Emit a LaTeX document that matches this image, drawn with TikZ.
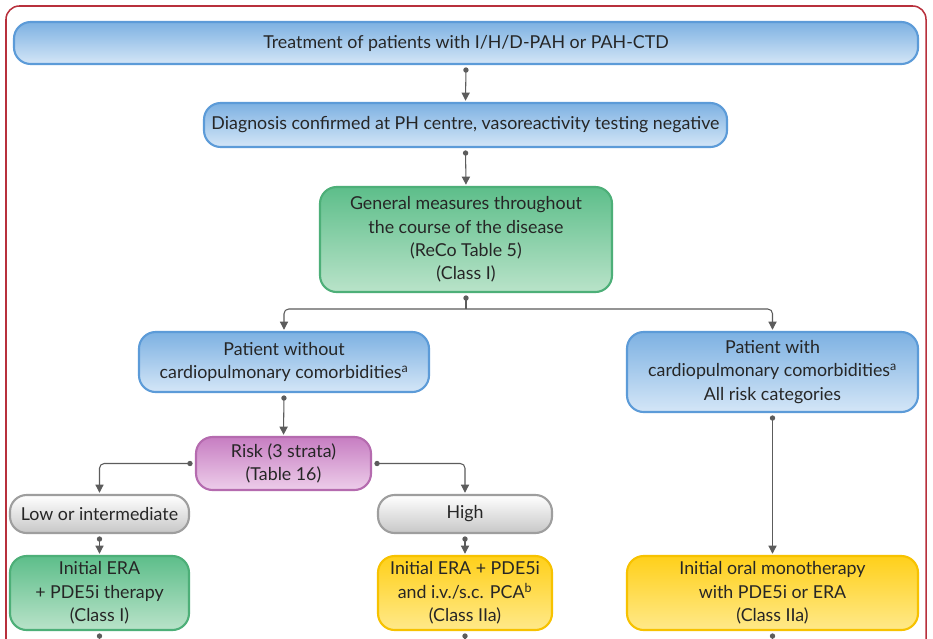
\documentclass[tikz,border=0pt]{standalone}
\usepackage{fontspec}
\setmainfont{Lato}
\usetikzlibrary{arrows.meta}

\definecolor{frameRed}{HTML}{B8303C}
\definecolor{lineGrey}{HTML}{5C5C5C}
\definecolor{blueTop}{HTML}{7DB1E2}
\definecolor{blueBot}{HTML}{D4E6F7}
\definecolor{blueEdge}{HTML}{5C9BD8}
\definecolor{greenTop}{HTML}{5DBE8A}
\definecolor{greenBot}{HTML}{B9E3C9}
\definecolor{greenEdge}{HTML}{4DAF78}
\definecolor{pinkTop}{HTML}{C77EC2}
\definecolor{pinkBot}{HTML}{EDCDEA}
\definecolor{pinkEdge}{HTML}{B56BAF}
\definecolor{yellowTop}{HTML}{FFD01A}
\definecolor{yellowBot}{HTML}{FFE98A}
\definecolor{yellowEdge}{HTML}{F7C200}

\begin{document}
\begin{tikzpicture}[x=0.03cm, y=-0.03cm,
    box/.style={rounded corners=0.5cm, line width=1.8pt, align=center,
      inner sep=2pt, text=black!85, font=\fontsize{15.2}{20}\selectfont},
    bluebox/.style={box, draw=blueEdge, top color=blueTop, bottom color=blueBot},
    greenbox/.style={box, draw=greenEdge, top color=greenTop, bottom color=greenBot},
    pinkbox/.style={box, draw=pinkEdge, top color=pinkTop, bottom color=pinkBot},
    greybox/.style={box, draw=black!38, top color=white, bottom color=black!22},
    yellowbox/.style={box, draw=yellowEdge, top color=yellowTop, bottom color=yellowBot},
    conn/.style={draw=lineGrey, line width=0.9pt, rounded corners=4pt,
      {Circle[length=4.5pt]}-{Triangle[length=7pt,width=7pt]},
      shorten <=2pt, shorten >=1pt},
    branch/.style={draw=lineGrey, line width=0.9pt, rounded corners=4pt,
      -{Triangle[length=7pt,width=7pt]}, shorten >=1pt},
    stub/.style={draw=lineGrey, line width=0.9pt, {Circle[length=4.5pt]}-, shorten <=2pt}]

    % Page size and outer frame
    \useasboundingbox (0,0) rectangle (933,638);
    \fill[white] (0,0) rectangle (933,638);
    \clip (0,0) rectangle (933,638);
    \draw[frameRed, line width=1.3pt, rounded corners=0.4cm] (6,6) rectangle (926,700);

    % Top of the algorithm
    \node[bluebox, minimum width=27.12cm, minimum height=1.26cm] (treat) at (466,43)
      {Treatment of patients with I/H/D-PAH or PAH-CTD};
    \node[bluebox, minimum width=15.69cm, minimum height=1.32cm] (diag) at (465.5,125)
      {Diagnosis confirmed at PH centre, vasoreactivity testing negative};
    \node[greenbox, minimum width=8.76cm, minimum height=3.15cm] (gen) at (466,239.5)
      {General measures throughout\\the course of the disease\\(ReCo Table 5)\\(Class I)};

    % Comorbidity branches
    \node[bluebox, minimum width=8.7cm, minimum height=1.8cm] (without) at (284,362)
      {Patient without\\cardiopulmonary comorbidities\textsuperscript{a}};
    \node[bluebox, minimum width=8.73cm, minimum height=2.4cm] (with) at (772.5,372)
      {Patient with\\cardiopulmonary comorbidities\textsuperscript{a}\\All risk categories};

    % Risk strata
    \node[pinkbox, minimum width=5.25cm, minimum height=1.59cm] (risk) at (283.5,463.5)
      {Risk (3 strata)\\(Table 16)};
    \node[greybox, minimum width=5.37cm, minimum height=1.14cm] (low) at (99.5,514)
      {Low or intermediate};
    \node[greybox, minimum width=5.22cm, minimum height=1.14cm] (high) at (465,514)
      {High};

    % Initial therapy
    \node[greenbox, minimum width=5.37cm, minimum height=2.22cm] (era) at (99.5,593)
      {Initial ERA\\+ PDE5i therapy\\(Class I)};
    \node[yellowbox, minimum width=5.22cm, minimum height=2.22cm] (combo) at (465,593)
      {Initial ERA + PDE5i\\and i.v./s.c. PCA\textsuperscript{b}\\(Class IIa)};
    \node[yellowbox, minimum width=8.73cm, minimum height=2.22cm] (mono) at (772.5,593)
      {Initial oral monotherapy\\with PDE5i or ERA\\(Class IIa)};

    % Connectors
    \draw[conn] (treat.south) -- (diag.north);
    \draw[conn] (diag.south) -- (gen.north);
    \coordinate (split) at (466,309);
    \draw[stub] (gen.south) -- (split);
    \draw[branch] (split) -| (without.north);
    \draw[branch] (split) -| (with.north);
    \draw[conn] (without.south) -- (risk.north);
    \draw[conn] (risk.west) -| (low.north);
    \draw[conn] (risk.east) -| (high.north);
    \draw[conn] (low.south) -- (era.north);
    \draw[conn] (high.south) -- (combo.north);
    \draw[conn] (with.south) -- (mono.north);

    % Outgoing lines cut off at the bottom
    \coordinate (eraOut) at (99.5,660);
    \coordinate (comboOut) at (465,660);
    \coordinate (monoOut) at (772.5,660);
    \draw[stub] (era.south) -- (eraOut);
    \draw[stub] (combo.south) -- (comboOut);
    \draw[stub] (mono.south) -- (monoOut);
\end{tikzpicture}
\end{document}
